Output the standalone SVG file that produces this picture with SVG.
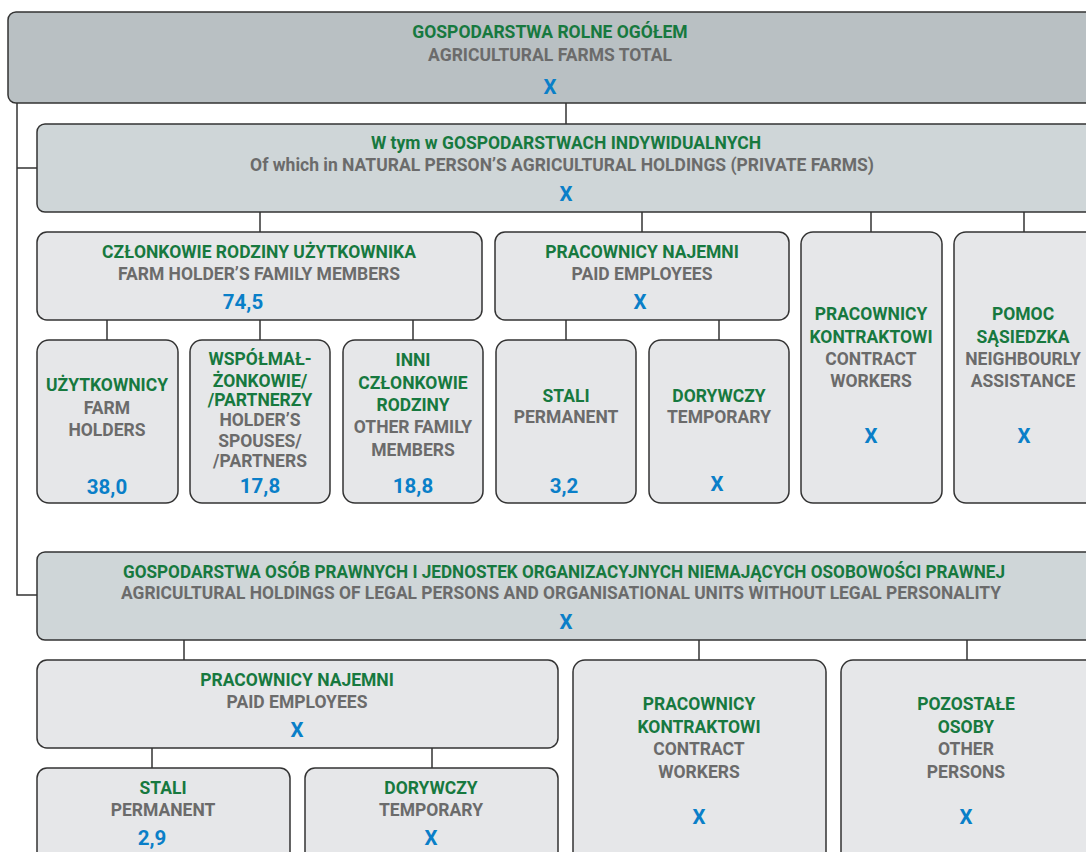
<svg xmlns="http://www.w3.org/2000/svg" width="1086" height="852" viewBox="0 0 1086 852">
<style>
.b{stroke:#333;stroke-width:1.5}
.t0{fill:#b9c0c3}
.t1{fill:#cfd6d8}
.t2{fill:#e6e7e9}
text{font-family:Roboto,"Liberation Sans",sans-serif;font-weight:700;text-anchor:middle;font-size:17.5px}
.g{fill:#17793f}
.s{fill:#6b6b6b}
.n{fill:#0a7fc8;font-size:20.5px}
.c line,.c path{stroke:#333;stroke-width:1.5;fill:none}
</style>
<rect width="1086" height="852" fill="#fff"/>
<g class="c" id="connectors">
<path d="M17 103 V595 H37"/>
<line x1="17" y1="168" x2="37" y2="168"/>
<line x1="566" y1="103" x2="566" y2="124"/>
<line x1="260" y1="212" x2="260" y2="232"/>
<line x1="642" y1="212" x2="642" y2="232"/>
<line x1="871" y1="212" x2="871" y2="232"/>
<line x1="1024" y1="212" x2="1024" y2="232"/>
<line x1="107" y1="320" x2="107" y2="340"/>
<line x1="260" y1="320" x2="260" y2="340"/>
<line x1="413" y1="320" x2="413" y2="340"/>
<line x1="566" y1="320" x2="566" y2="340"/>
<line x1="719" y1="320" x2="719" y2="340"/>
<line x1="184" y1="640" x2="184" y2="660"/>
<line x1="699" y1="640" x2="699" y2="660"/>
<line x1="967" y1="640" x2="967" y2="660"/>
<line x1="152" y1="748" x2="152" y2="768"/>
<line x1="432" y1="748" x2="432" y2="768"/>
</g>
<g id="total">
<rect class="b t0" x="8" y="12" width="1100" height="91" rx="8"/>
<text class="g" x="550" y="38">GOSPODARSTWA ROLNE OGÓŁEM</text>
<text class="s" x="550" y="61">AGRICULTURAL FARMS TOTAL</text>
<text class="n" x="550" y="94">X</text>
</g>
<g id="individual">
<rect class="b t1" x="37" y="124" width="1070" height="88" rx="8"/>
<text class="g" x="566" y="149">W tym w GOSPODARSTWACH INDYWIDUALNYCH</text>
<text class="s" x="562" y="171">Of which in NATURAL PERSON’S AGRICULTURAL HOLDINGS (PRIVATE FARMS)</text>
<text class="n" x="566" y="201">X</text>
</g>
<g id="family">
<rect class="b t2" x="37" y="232" width="445" height="88" rx="10"/>
<text class="g" x="259" y="258">CZŁONKOWIE RODZINY UŻYTKOWNIKA</text>
<text class="s" x="259" y="280">FARM HOLDER’S FAMILY MEMBERS</text>
<text class="n" x="243" y="309">74,5</text>
</g>
<g id="paid1">
<rect class="b t2" x="495" y="232" width="294" height="88" rx="10"/>
<text class="g" x="642" y="258">PRACOWNICY NAJEMNI</text>
<text class="s" x="642" y="280">PAID EMPLOYEES</text>
<text class="n" x="640" y="309">X</text>
</g>
<g id="contract1">
<rect class="b t2" x="801" y="232" width="141" height="271" rx="12"/>
<text class="g" x="871" y="320">PRACOWNICY</text>
<text class="g" x="871" y="343">KONTRAKTOWI</text>
<text class="s" x="871" y="365">CONTRACT</text>
<text class="s" x="871" y="387">WORKERS</text>
<text class="n" x="871" y="443">X</text>
</g>
<g id="neighbour">
<rect class="b t2" x="954" y="232" width="150" height="271" rx="12"/>
<text class="g" x="1023" y="320">POMOC</text>
<text class="g" x="1023" y="343">SĄSIEDZKA</text>
<text class="s" x="1023" y="365">NEIGHBOURLY</text>
<text class="s" x="1023" y="387">ASSISTANCE</text>
<text class="n" x="1024" y="443">X</text>
</g>
<g id="holders">
<rect class="b t2" x="37" y="340" width="141" height="163" rx="12"/>
<text class="g" x="107" y="391">UŻYTKOWNICY</text>
<text class="s" x="107" y="414">FARM</text>
<text class="s" x="107" y="436">HOLDERS</text>
<text class="n" x="107" y="494">38,0</text>
</g>
<g id="spouses">
<rect class="b t2" x="190" y="340" width="140" height="163" rx="12"/>
<text class="g" x="260" y="365">WSPÓŁMAŁ-</text>
<text class="g" x="260" y="387">ŻONKOWIE/</text>
<text class="g" x="260" y="406">/PARTNERZY</text>
<text class="s" x="260" y="426">HOLDER’S</text>
<text class="s" x="260" y="447">SPOUSES/</text>
<text class="s" x="260" y="467">/PARTNERS</text>
<text class="n" x="260" y="493">17,8</text>
</g>
<g id="other">
<rect class="b t2" x="343" y="340" width="140" height="163" rx="12"/>
<text class="g" x="413" y="366">INNI</text>
<text class="g" x="413" y="389">CZŁONKOWIE</text>
<text class="g" x="413" y="411">RODZINY</text>
<text class="s" x="413" y="433">OTHER FAMILY</text>
<text class="s" x="413" y="456">MEMBERS</text>
<text class="n" x="413" y="493">18,8</text>
</g>
<g id="perm1">
<rect class="b t2" x="496" y="340" width="140" height="163" rx="12"/>
<text class="g" x="566" y="402">STALI</text>
<text class="s" x="566" y="423">PERMANENT</text>
<text class="n" x="564" y="493">3,2</text>
</g>
<g id="temp1">
<rect class="b t2" x="649" y="340" width="140" height="163" rx="12"/>
<text class="g" x="719" y="402">DORYWCZY</text>
<text class="s" x="719" y="423">TEMPORARY</text>
<text class="n" x="717" y="491">X</text>
</g>
<g id="legal">
<rect class="b t1" x="37" y="552" width="1070" height="88" rx="8"/>
<text class="g" x="564" y="578" textLength="882" lengthAdjust="spacingAndGlyphs">GOSPODARSTWA OSÓB PRAWNYCH I JEDNOSTEK ORGANIZACYJNYCH NIEMAJĄCYCH OSOBOWOŚCI PRAWNEJ</text>
<text class="s" x="561" y="599" textLength="880" lengthAdjust="spacingAndGlyphs">AGRICULTURAL HOLDINGS OF LEGAL PERSONS AND ORGANISATIONAL UNITS WITHOUT LEGAL PERSONALITY</text>
<text class="n" x="566" y="629">X</text>
</g>
<g id="paid2">
<rect class="b t2" x="37" y="660" width="521" height="88" rx="10"/>
<text class="g" x="297" y="686">PRACOWNICY NAJEMNI</text>
<text class="s" x="297" y="708">PAID EMPLOYEES</text>
<text class="n" x="297" y="737">X</text>
</g>
<g id="contract2">
<rect class="b t2" x="573" y="660" width="253" height="210" rx="12"/>
<text class="g" x="699" y="710">PRACOWNICY</text>
<text class="g" x="699" y="733">KONTRAKTOWI</text>
<text class="s" x="699" y="755">CONTRACT</text>
<text class="s" x="699" y="778">WORKERS</text>
<text class="n" x="699" y="824">X</text>
</g>
<g id="otherpersons">
<rect class="b t2" x="841" y="660" width="265" height="210" rx="12"/>
<text class="g" x="966" y="710">POZOSTAŁE</text>
<text class="g" x="966" y="733">OSOBY</text>
<text class="s" x="966" y="755">OTHER</text>
<text class="s" x="966" y="778">PERSONS</text>
<text class="n" x="966" y="824">X</text>
</g>
<g id="perm2">
<rect class="b t2" x="37" y="768" width="253" height="100" rx="10"/>
<text class="g" x="163" y="794">STALI</text>
<text class="s" x="163" y="816">PERMANENT</text>
<text class="n" x="152" y="845">2,9</text>
</g>
<g id="temp2">
<rect class="b t2" x="305" y="768" width="253" height="100" rx="10"/>
<text class="g" x="431" y="794">DORYWCZY</text>
<text class="s" x="431" y="816">TEMPORARY</text>
<text class="n" x="431" y="845">X</text>
</g>
</svg>
